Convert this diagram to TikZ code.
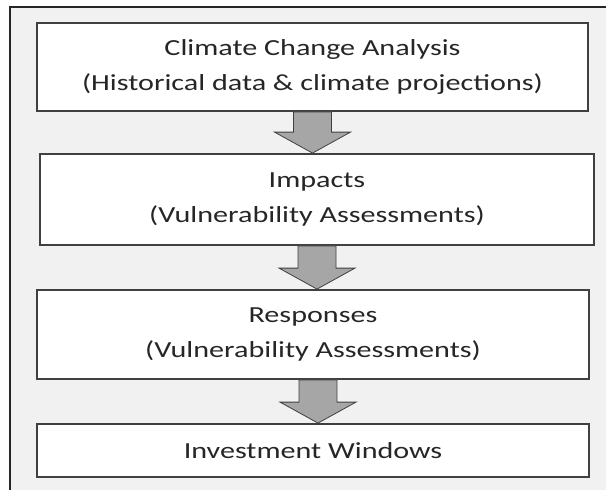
\documentclass[tikz,border=0pt]{standalone}
\usepackage{fontspec}
\setmainfont{Carlito}[FakeStretch=1.31]
\usepackage{tikz}
\usetikzlibrary{calc}
\definecolor{boxline}{RGB}{64,64,64}
\definecolor{panelgray}{RGB}{241,241,241}
\definecolor{arrowgray}{RGB}{166,166,166}
\definecolor{textgray}{RGB}{38,38,38}
\tikzset{
  panel/.style={
    draw=black!85,
    fill=panelgray,
    line width=1.2pt
  },
  stage/.style={
    draw=boxline,
    fill=white,
    line width=1.8pt,
    align=center,
    inner sep=0pt,
    text=textgray,
    font=\fontsize{23}{35}\selectfont
  },
  downarr/.style={
    draw=boxline,
    fill=arrowgray,
    line width=0.8pt,
    line join=miter
  }
}

\begin{document}
\begin{tikzpicture}[x=1pt,y=-1pt]
            \clip (0,0) rectangle (606,490);
            \useasboundingbox (0,0) rectangle (606,490);
            \draw[panel] (10,7) rectangle (620,500);
            \node[stage, minimum width=551, minimum height=88] (climate) at (312.5,67)
              {Climate Change Analysis\\(Historical data \& climate projections)};
            \node[stage, minimum width=554, minimum height=91] (impacts) at (317,199.5)
              {Impacts\\(Vulnerability Assessments)};
            \node[stage, minimum width=552, minimum height=89] (responses) at (313,334.5)
              {Responses\\(Vulnerability Assessments)};
            \node[stage, minimum width=552, minimum height=53] (invest) at (313,450.5)
              {Investment Windows};
            % block arrows between the stages
            \foreach \a/\b/\s in {climate/impacts/0, impacts/responses/0, responses/invest/5}
              \draw[downarr] let \p1=(\a.south), \p2=(\b.north) in
                (\x1+\s pt-19pt,\y1) -- (\x1+\s pt+19pt,\y1) -- (\x1+\s pt+19pt,\y2+21pt)
                -- (\x1+\s pt+38pt,\y2+21pt) -- (\x1+\s pt,\y2) -- (\x1+\s pt-38pt,\y2+21pt)
                -- (\x1+\s pt-19pt,\y2+21pt) -- cycle;
          \end{tikzpicture}
\end{document}
